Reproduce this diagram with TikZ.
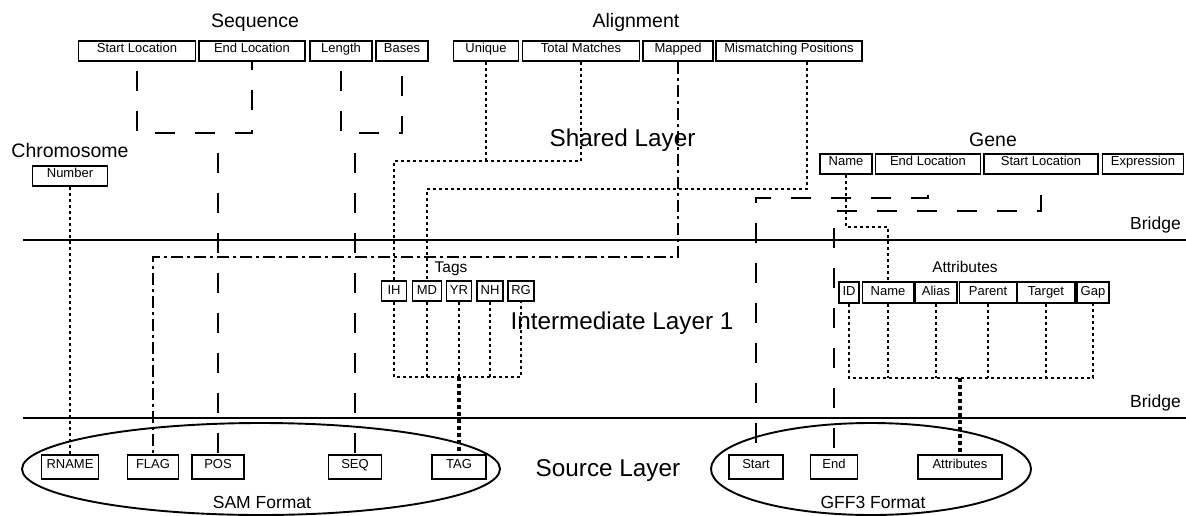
\documentclass[tikz,border=0pt]{standalone}
\usepackage{fontspec}
\setmainfont{Liberation Sans}
\begin{document}
\begin{tikzpicture}[x=1pt,y=-1pt,
  fld/.style={draw, line width=1.8pt, inner sep=0pt, font=\fontsize{13}{15}\selectfont, text height=11pt, text depth=9pt},
  tagfld/.style={fld, line width=1.6pt, text height=13pt, text depth=7pt},
  attrfld/.style={fld, line width=1.6pt, text height=13pt, text depth=8pt},
  srcfld/.style={fld, text height=13pt, text depth=11pt},
  grp/.style={font=\fontsize{19.5}{22}\selectfont, anchor=base, inner sep=0pt},
  layer/.style={font=\fontsize{24.3}{28}\selectfont, anchor=base, inner sep=0pt},
  sub/.style={font=\fontsize{15.5}{18}\selectfont, anchor=base, inner sep=0pt},
  fmt/.style={font=\fontsize{17.5}{20}\selectfont, anchor=base, inner sep=0pt},
  bridgeline/.style={line width=1.6pt},
  ldash/.style={line width=2pt, dash pattern=on 20pt off 20pt, dash phase=20pt},
  dots/.style={line width=2pt, dash pattern=on 3pt off 3pt},
  thindots/.style={line width=1.8pt, dash pattern=on 3pt off 3pt},
  thickdots/.style={line width=3.2pt, dash pattern=on 4pt off 3pt},
  dashdot/.style={line width=1.9pt, dash pattern=on 12pt off 4pt on 3pt off 4pt},
  container/.style={line width=1.9pt}
]
\useasboundingbox (0,0) rectangle (1186,515);

% ---------- shared layer ----------
\node[grp] (seqlbl) at (255,27) {Sequence};
\node[fld, minimum width=117pt] (sl)  at (137,51) {Start Location};
\node[fld, minimum width=106pt] (el)  at (252,51) {End Location};
\node[fld, minimum width=62pt]  (len) at (341,51) {Length};
\node[fld, minimum width=52pt]  (bas) at (402,51) {Bases};

\node[grp] (alnlbl) at (636,27) {Alignment};
\node[fld, minimum width=65pt]  (uni) at (486,51) {Unique};
\node[fld, minimum width=117pt] (tm)  at (581,51) {Total Matches};
\node[fld, minimum width=70pt]  (map) at (678,51) {Mapped};
\node[fld, minimum width=146pt] (mis) at (789,51) {Mismatching Positions};

\node[grp] (chrlbl) at (70,157) {Chromosome};
\node[fld, minimum width=75pt] (num) at (70,176) {Number};

\node[grp] (genelbl) at (993,146) {Gene};
\node[fld, minimum width=52pt]  (gname)  at (846,164)  {Name};
\node[fld, minimum width=105pt] (gend)   at (928,164)  {End Location};
\node[fld, minimum width=114pt] (gstart) at (1041,164) {Start Location};
\node[fld, minimum width=81pt]  (gexp)   at (1143,164) {Expression};

\node[layer] (shared) at (622.5,146) {Shared Layer};

% ---------- bridges ----------
\coordinate (b1w) at (23,240);  \coordinate (b1e) at (1186,240);
\coordinate (b2w) at (23,418);  \coordinate (b2e) at (1186,418);
\draw[bridgeline] (b1w) -- (b1e);
\draw[bridgeline] (b2w) -- (b2e);
\node[fmt, anchor=base east] (br1) at (1181,229) {Bridge};
\node[fmt, anchor=base east] (br2) at (1181,407) {Bridge};

% ---------- intermediate layer ----------
\node[sub] (tagslbl) at (451,272) {Tags};
\node[tagfld, minimum width=25pt] (ih) at (394,291) {IH};
\node[tagfld, minimum width=29pt] (md) at (427,291) {MD};
\node[tagfld, minimum width=25pt] (yr) at (459,291) {YR};
\node[tagfld, minimum width=26pt] (nh) at (490,291) {NH};
\node[tagfld, minimum width=26pt] (rg) at (521,291) {RG};

\node[sub] (attrlbl) at (965,272) {Attributes};
\node[attrfld, minimum width=20pt] (aid)   at (849,292.5)  {ID};
\node[attrfld, minimum width=51pt] (aname) at (888,292.5)  {Name};
\node[attrfld, minimum width=42pt] (alias) at (936,292.5)  {Alias};
\node[attrfld, minimum width=57pt] (apar)  at (988,292.5)  {Parent};
\node[attrfld, minimum width=58pt] (atar)  at (1046,292.5) {Target};
\node[attrfld, minimum width=32pt] (agap)  at (1093,292.5) {Gap};

\node[layer] (inter) at (622,329) {Intermediate Layer 1};

% ---------- source layer ----------
\draw[container] (261,469) ellipse [x radius=239, y radius=46];
\draw[container] (871,469) ellipse [x radius=160, y radius=46];
\node[fmt] (samlbl) at (262,508) {SAM Format};
\node[fmt] (gfflbl) at (873,508) {GFF3 Format};
\node[layer] (source) at (608,476) {Source Layer};

\node[srcfld, minimum width=57pt] (rname) at (70,467)  {RNAME};
\node[srcfld, minimum width=51pt] (flag)  at (153,467) {FLAG};
\node[srcfld, minimum width=52pt] (pos)   at (218,467) {POS};
\node[srcfld, minimum width=53pt] (seq)   at (355,467) {SEQ};
\node[srcfld, minimum width=54pt] (tag)   at (459,467) {TAG};

\node[srcfld, minimum width=54pt] (gffstart) at (756,467) {Start};
\node[srcfld, minimum width=47pt] (gffend)   at (834,467) {End};
\node[srcfld, minimum width=84pt] (gffattr)  at (960,467) {Attributes};

% ---------- connector levels ----------
\coordinate (ySeq)  at (0,133);
\coordinate (yAl)   at (0,161);
\coordinate (yMis)  at (0,189);
\coordinate (yGE)   at (0,198);
\coordinate (yGS)   at (0,211);
\coordinate (yGN)   at (0,227);
\coordinate (yMap)  at (0,257);
\coordinate (yTag)  at (0,377);
\coordinate (yAttr) at (0,378);

% sequence fields to SAM
\draw[ldash, dash phase=31pt] (sl.south) |- (ySeq -| el.south) -- (el.south);
\draw[ldash] (ySeq -| pos.north) -- (pos.north);
\draw[ldash, dash phase=31pt] (len.south) |- (ySeq -| bas.south) -- (bas.south);
\draw[ldash] (ySeq -| seq.north) -- (seq.north);

% alignment fields to tags and flag
\draw[dots] (uni.south) -- (yAl -| uni.south);
\draw[dots] (tm.south) |- (yAl -| ih.north) -- (ih.north);
\draw[dots] ([xshift=18pt]mis.south) |- (yMis -| md.north) -- (md.north);
\draw[dashdot] (map.south) |- (yMap -| flag.north) -- (flag.north);

% chromosome to RNAME
\draw[dots] (num.south) -- (rname.north);

% gene fields to GFF3
\draw[dots] (gname.south) |- (yGN -| aname.north) -- (aname.north);
\draw[ldash] (gend.south) |- (yGE -| gffstart.north) -- (gffstart.north);
\draw[ldash] (gstart.south) |- (yGS -| gffend.north) -- (gffend.north);

% tags to TAG
\draw[thindots] (ih.south) |- (yTag -| rg.south) -- (rg.south);
\foreach \t in {md,yr,nh} \draw[thindots] (\t.south) -- (yTag -| \t.south);
\draw[thickdots] (yTag -| tag.north) -- (tag.north);

% attributes to GFF3 attributes
\draw[thindots] (aid.south) |- (yAttr -| agap.south) -- (agap.south);
\foreach \a in {aname,alias,apar,atar} \draw[thindots] (\a.south) -- (yAttr -| \a.south);
\draw[thickdots] (yAttr -| gffattr.north) -- (gffattr.north);
\end{tikzpicture}
\end{document}
